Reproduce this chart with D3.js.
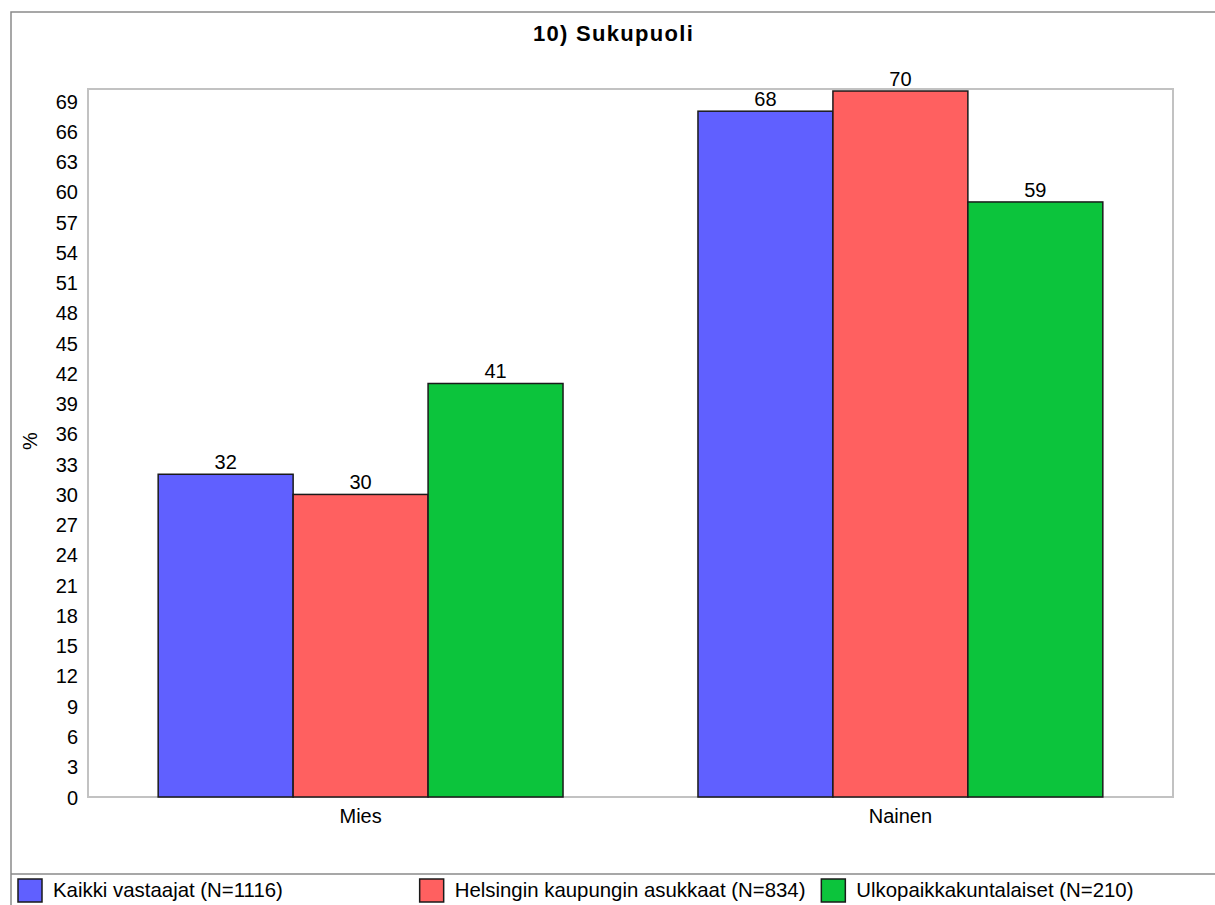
<!DOCTYPE html>
<html>
<head>
<meta charset="utf-8">
<script src="https://cdn.jsdelivr.net/npm/d3@7"></script>
<style>
  html, body { margin: 0; padding: 0; background: #fff; }
  svg { display: block; font-family: "Liberation Sans", Arial, sans-serif; }
</style>
</head>
<body>
<svg id="chart" width="1215" height="905"></svg>
<script>
// Survey answers: gender distribution (%) per respondent group
const categories = ["Mies", "Nainen"];
const seriesNames = [
  "Kaikki vastaajat (N=1116)",
  "Helsingin kaupungin asukkaat (N=834)",
  "Ulkopaikkakuntalaiset (N=210)"
];
const kaikkiValues = [32, 68];
const helsinkiValues = [30, 70];
const ulkoValues = [41, 59];
const seriesValues = [kaikkiValues, helsinkiValues, ulkoValues];
const seriesColors = ["#6060ff", "#ff6060", "#0cc43c"];
const yTicks = d3.range(0, 70, 3);
const titleText = "10) Sukupuoli";
const yTitle = "%";

const svg = d3.select("#chart");
const W = 1215, H = 905;

// outer frame
const frame = { left: 11, top: 12, right: 1216, legendTop: 874 };
svg.append("path")
  .attr("d", `M${frame.right},${frame.top}H${frame.left}V${H + 2}`)
  .attr("fill", "none").attr("stroke", "#8a8a8a").attr("stroke-width", 1.5);
svg.append("line")
  .attr("x1", frame.left).attr("x2", frame.right)
  .attr("y1", frame.legendTop).attr("y2", frame.legendTop)
  .attr("stroke", "#8a8a8a").attr("stroke-width", 1.5);

// title
svg.append("text")
  .attr("x", (frame.left + frame.right) / 2).attr("y", 41)
  .attr("text-anchor", "middle")
  .attr("font-weight", "bold").attr("font-size", 22)
  .attr("letter-spacing", 1.3)
  .attr("fill", "#000")
  .text(titleText);

// plot area
const plot = { left: 88, top: 89, right: 1173, bottom: 797 };

const y = d3.scaleLinear().domain([0, 70.2]).range([plot.bottom, plot.top]);
const x0 = d3.scaleBand().domain(categories)
  .range([plot.left, plot.right]).paddingInner(0.25).paddingOuter(0.13);
const x1 = d3.scaleBand().domain(d3.range(seriesNames.length))
  .range([0, x0.bandwidth()]).padding(0);

svg.append("rect")
  .attr("x", plot.left).attr("y", plot.top)
  .attr("width", plot.right - plot.left).attr("height", plot.bottom - plot.top)
  .attr("fill", "#fff").attr("stroke", "#c2c2c2").attr("stroke-width", 2);

// y axis labels
const yAxis = d3.axisLeft(y).tickValues(yTicks).tickSize(0).tickPadding(10);
const gy = svg.append("g").attr("transform", `translate(${plot.left},0)`).call(yAxis);
gy.select(".domain").remove();
gy.selectAll("text")
  .attr("font-size", 20).attr("font-family", "Liberation Sans, Arial, sans-serif")
  .attr("fill", "#000").attr("dy", "0.35em");

// x axis labels
const xAxis = d3.axisBottom(x0).tickSize(0).tickPadding(12);
const gx = svg.append("g").attr("transform", `translate(0,${plot.bottom})`).call(xAxis);
gx.select(".domain").remove();
gx.selectAll("text")
  .attr("font-size", 20).attr("font-family", "Liberation Sans, Arial, sans-serif")
  .attr("fill", "#000");

// y axis title
svg.append("text")
  .attr("transform", `translate(37,441) rotate(-90)`)
  .attr("text-anchor", "middle")
  .attr("font-size", 20).attr("fill", "#000")
  .text(yTitle);

// bars
const rows = [];
categories.forEach((c, ci) => {
  seriesValues.forEach((vals, si) => rows.push({ cat: c, s: si, v: vals[ci] }));
});

const bars = svg.append("g");
bars.selectAll("rect").data(rows).join("rect")
  .attr("x", d => x0(d.cat) + x1(d.s))
  .attr("y", d => y(d.v))
  .attr("width", x1.bandwidth())
  .attr("height", d => y(0) - y(d.v))
  .attr("fill", d => seriesColors[d.s])
  .attr("stroke", "#1a1a1a").attr("stroke-width", 1.5);

bars.selectAll("text").data(rows).join("text")
  .attr("x", d => x0(d.cat) + x1(d.s) + x1.bandwidth() / 2)
  .attr("y", d => y(d.v) - 5)
  .attr("text-anchor", "middle")
  .attr("font-size", 20).attr("fill", "#000")
  .text(d => d3.format("d")(d.v));

// legend
const colW = (frame.right - frame.left) / 3;
const legend = svg.append("g");
const items = legend.selectAll("g").data(seriesNames).join("g")
  .attr("transform", (d, i) => `translate(${frame.left + 7 + i * colW},879)`);
items.append("rect")
  .attr("width", 24).attr("height", 23)
  .attr("fill", (d, i) => seriesColors[i])
  .attr("stroke", "#1a1a1a").attr("stroke-width", 1.5);
items.append("text")
  .attr("x", 35).attr("y", 18)
  .attr("font-size", 20.4).attr("fill", "#000")
  .text(d => d);
</script>
</body>
</html>
